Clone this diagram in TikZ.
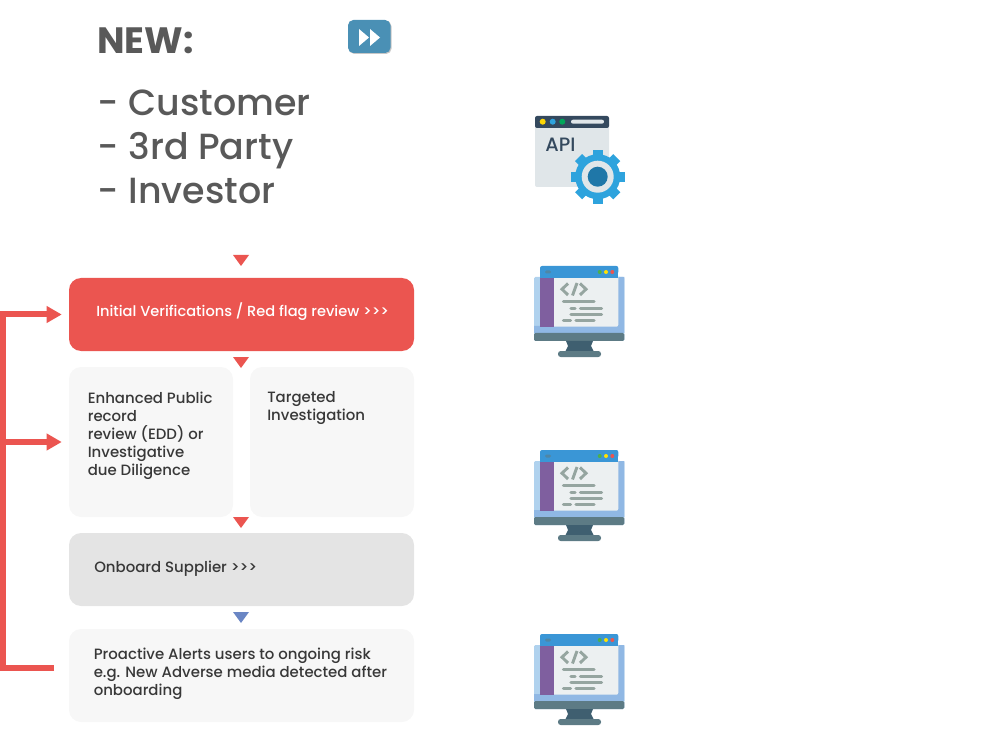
\documentclass[tikz,border=0pt]{standalone}
\usepackage{fontspec}
\setmainfont{Poppins}
\newfontfamily\medfont{Poppins Medium}
\usetikzlibrary{arrows.meta}
\definecolor{flagred}{HTML}{EB5550}
\definecolor{softgrey}{HTML}{F7F7F7}
\definecolor{midgrey}{HTML}{E4E4E4}
\definecolor{textgrey}{HTML}{383838}
\definecolor{headgrey}{HTML}{595959}
\definecolor{markblue}{HTML}{6A86C4}
\definecolor{buttonblue}{HTML}{4A90B5}
\definecolor{skyblue}{HTML}{3A96D6}
\definecolor{paleblue}{HTML}{B0D2EE}
\definecolor{deskblue}{HTML}{90B8E4}
\definecolor{slate}{HTML}{5D7B85}
\definecolor{slatedark}{HTML}{3F5F70}
\definecolor{sidepurple}{HTML}{7F5F9F}
\definecolor{paneltint}{HTML}{ECF0F1}
\definecolor{codegrey}{HTML}{95A5A0}
\definecolor{titledark}{HTML}{34495E}
\definecolor{apibody}{HTML}{E0E6E9}
\definecolor{gearblue}{HTML}{2EA3DD}
\definecolor{geardark}{HTML}{1F77A8}
\tikzset{
  stepbox/.style = {rectangle, rounded corners=9pt, inner sep=0pt, minimum width=258.75pt, minimum height=54.75pt},
  halfbox/.style = {stepbox, fill=softgrey, minimum width=123pt, minimum height=112.5pt},
  steptext/.style = {anchor=north west, inner sep=0pt, align=left, text=textgrey, font=\medfont\fontsize{11.2}{13.5}\selectfont},
  bigtext/.style = {anchor=north west, inner sep=0pt, align=left, text=headgrey},
  feedback/.style = {draw=flagred, line width=4.5pt, -{Triangle[length=11.25pt, width=12pt]}, shorten >=5.25pt},
  monitor/.pic = {
    \fill[paleblue, rounded corners=1pt] (0,11) rectangle (90.3,75);
    \fill[deskblue] (6,60) -- (84,11) -- (90.3,11) -- (90.3,67) -- (0,67) -- (0,60) -- cycle;
    \fill[slate, rounded corners=1pt] (0,67) rectangle (90.3,75);
    \fill[slatedark] (32,75) -- (59,75) -- (57,80) -- (60,86) -- (31,86) -- (34,80) -- cycle;
    \fill[slate, rounded corners=2pt] (24,85) rectangle (67,91);
    \fill[paneltint, rounded corners=1.5pt] (6,8) rectangle (84.3,60.7);
    \fill[sidepurple] (6,12.3) rectangle (20.3,60.7);
    \fill[skyblue, rounded corners=1.5pt] (6,0) rectangle (84.3,8);
    \fill[skyblue] (6,4) rectangle (84.3,12.3);
    \fill[slate!60!skyblue, rounded corners=1pt] (11,4.5) rectangle (17,7.5);
    \fill[green!55!black!70] (65.7,6) circle (2);
    \fill[yellow!85!orange] (72,6) circle (2);
    \fill[flagred] (78.3,6) circle (2);
    \draw[codegrey, line width=2.2pt] (34,17.5) -- (28,23.2) -- (34,29);
    \draw[codegrey, line width=2.2pt] (38.5,29.5) -- (43,17);
    \draw[codegrey, line width=2.2pt] (46,17.5) -- (52,23.2) -- (46,29);
    \draw[codegrey, line width=2.4pt, line cap=round]
      (29.5,35.7) -- (60,35.7)
      (37,42.3) -- (41,42.3) (46.5,42.3) -- (67.5,42.3)
      (37,48.3) -- (67.5,48.3)
      (29.5,54.7) -- (36.5,54.7) (42,54.7) -- (60,54.7);
  }
}
\begin{document}
\begin{tikzpicture}[x=0.75pt, y=-0.75pt]
  \useasboundingbox (0,0) rectangle (995,741);

  % heading
  \node[bigtext, font=\bfseries\fontsize{27.5}{33}\selectfont] (newtitle) at (97,27) {NEW:};
  \node[bigtext, font=\medfont\fontsize{27.3}{33}\selectfont] (partylist) at (97.5,90) {- Customer\\- 3rd Party\\- Investor};

  % forward button
  \fill[black!22, rounded corners=4pt] (349,21) rectangle (391.5,54);
  \fill[buttonblue, rounded corners=4pt] (348,20) rectangle (390.5,53);
  \fill[white] (359,29) -- (369,37.5) -- (359,46) -- cycle;
  \fill[white] (370,29) -- (380,37.5) -- (370,46) -- cycle;

  % steps
  \node[stepbox, fill=flagred] (initial) at (241.5,314.5) {};
  \node[halfbox] (enhanced) at (151,442) {};
  \node[halfbox] (targeted) at (332,442) {};
  \node[stepbox, fill=midgrey] (onboard) at (241.5,569.5) {};
  \node[stepbox, fill=softgrey, minimum height=69.75pt] (alerts) at (241.5,675.5) {};

  \node[steptext, text=white, font=\medfont\fontsize{10.95}{13.5}\selectfont] (initialtext) at (96,302) {Initial Verifications / Red flag review >{}>{}>};
  \node[steptext] (enhancedtext) at (87.5,391.5) {Enhanced Public\\record\\review (EDD) or\\Investigative\\due Diligence};
  \node[steptext] (targetedtext) at (267,391) {Targeted\\Investigation};
  \node[steptext] (onboardtext) at (94,561) {Onboard Supplier >{}>{}>};
  \node[steptext] (alertstext) at (93.5,648) {Proactive Alerts users to ongoing risk\\e.g. New Adverse media detected after\\onboarding};

  % step markers
  \foreach \y/\c in {255/flagred, 357/flagred, 517/flagred, 612/markblue}
    \fill[\c] (233,\y) -- (249,\y) -- (241,\y+11) -- cycle;

  % feedback rail
  \coordinate (alertstub) at (54,668);
  \coordinate (railbottom) at (3,668);
  \coordinate (railtop) at (3,314.5);
  \coordinate (railmid) at (3,442);
  \draw[feedback] (alertstub) -- (railbottom) -- (railtop) -- (initial.west);
  \draw[feedback] (railmid) -- (enhanced.west);

  % api window
  \fill[apibody, rounded corners=1.5pt] (535,120) rectangle (609,187);
  \fill[titledark, rounded corners=1.5pt] (535,116) rectangle (609,128);
  \fill[yellow!75!orange] (542.7,121.7) circle (3);
  \fill[gearblue] (552.7,121.7) circle (3);
  \fill[teal!70!green] (562.3,121.7) circle (3);
  \fill[apibody, rounded corners=1.5pt] (571,119.7) rectangle (604,123.7);
  \node[inner sep=0pt, text=titledark, font=\medfont\fontsize{14.5}{16}\selectfont] (apilabel) at (560.5,144.5) {API};

  % gear
  \foreach \a in {0,45,...,315}
    \fill[gearblue, shift={(597.7,176.7)}, rotate=\a] (-5,-27) rectangle (5,0);
  \fill[gearblue] (597.7,176.7) circle (22.5);
  \fill[apibody] (597.7,176.7) circle (16);
  \fill[geardark] (597.7,176.7) circle (10);

  % desktops
  \foreach \y in {266,450,634}
    \pic at (534,\y) {monitor};
\end{tikzpicture}
\end{document}
